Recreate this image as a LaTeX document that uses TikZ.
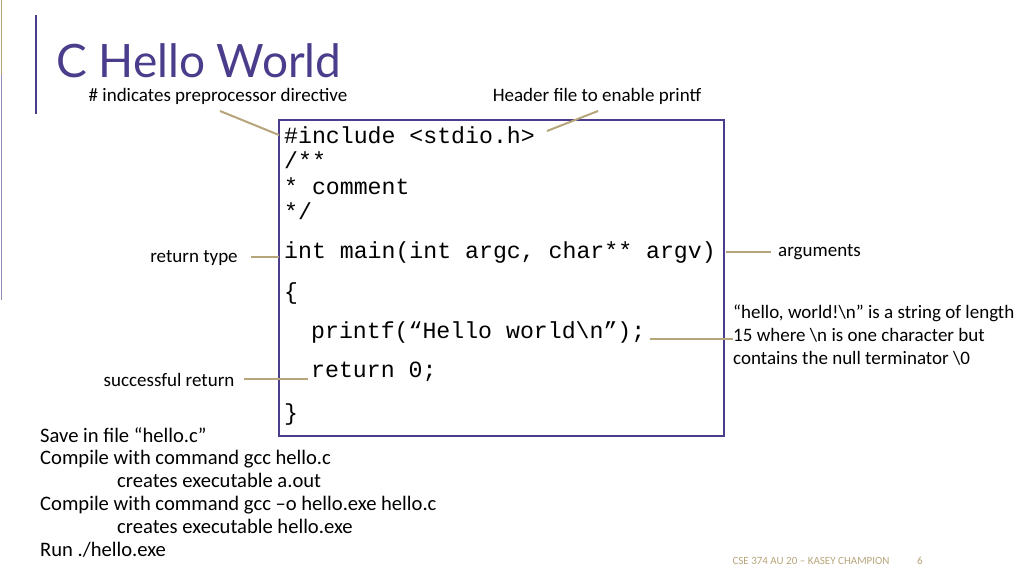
\documentclass[tikz,border=0pt]{standalone}
\usepackage{fontspec}
\setmainfont{Carlito}
\newfontfamily\codefont{Liberation Mono}
\newfontfamily\titlefont{Lato}
\begin{document}
\begin{tikzpicture}[x=1pt,y=-1pt,
  lbl/.style={inner sep=0pt,font=\fontsize{19}{22}\selectfont},
  code/.style={inner sep=0pt,anchor=west,font=\codefont\fontsize{23.2}{26}\selectfont},
  conn/.style={draw=gold,line width=2pt}]
\definecolor{purp}{HTML}{4B3C8C}
\definecolor{gold}{HTML}{B7A57A}
\useasboundingbox (0,0) rectangle (1024,576);
\draw[gold,line width=1pt] (1,0) -- (1,75);
\draw[purp!60,line width=1pt] (1,75) -- (1,300);
\draw[purp,line width=1.5pt] (36,15) -- (36,114);
\node[inner sep=0pt,anchor=west,text=purp,font=\titlefont\fontsize{46}{50}\selectfont] (title) at (56,61) {C Hello World};
\draw[purp,line width=1.5pt] (279,120) rectangle (724,436);
\node[code] (inc) at (284,135) {\#include <stdio.h>};
\node[code] at (284,160) {/**};
\node[code] at (284,186) {* comment};
\node[code] at (284,211) {*/};
\node[code] (main) at (284,252) {int main(int argc, char** argv)};
\node[code] at (284,293) {\{};
\node[code] (pf) at (311,332) {printf(“Hello world\textbackslash n”);};
\node[code] (ret) at (311,372) {return 0;};
\node[code] at (284,414) {\}};
\node[lbl] (pre) at (218,96) {\# indicates preprocessor directive};
\node[lbl] (hdr) at (597,96) {Header file to enable printf};
\node[lbl] (rt) at (194,258) {return type};
\node[lbl,anchor=west] (args) at (778,252) {arguments};
\node[lbl,anchor=north west,align=left,font=\fontsize{19}{23}\selectfont] (str) at (733,305) {“hello, world!\textbackslash n” is a string of length\\15 where \textbackslash n is one character but\\contains the null terminator \textbackslash 0};
\node[lbl] (sr) at (169,380) {successful return};
\node[lbl,anchor=north west,align=left,font=\fontsize{20.6}{22.8}\selectfont] (notes) at (40,427) {Save in file “hello.c”\\Compile with command gcc hello.c\\\hspace{77pt}creates executable a.out\\Compile with command gcc –o hello.exe hello.c\\\hspace{77pt}creates executable hello.exe\\Run ./hello.exe};
\node[inner sep=0pt,text=gold,font=\fontsize{11}{12}\selectfont] (foot) at (811,561) {CSE 374 AU 20 – KASEY CHAMPION};
\node[inner sep=0pt,text=gold,font=\fontsize{11}{12}\selectfont] (pg) at (920,561) {6};
\coordinate (c1) at (220,111); \coordinate (c1e) at (279,135);
\draw[conn] (c1) -- (c1e);
\coordinate (c2) at (598,111); \coordinate (c2e) at (547,131);
\draw[conn] (c2) -- (c2e);
\coordinate (c3) at (251,257); \coordinate (c3e) at (279,257);
\draw[conn] (c3) -- (c3e);
\coordinate (c4) at (726,252);
\draw[conn] (c4) -- ([xshift=-7pt]args.west);
\coordinate (c5) at (650,339);
\draw[conn] (c5) -- (str.north west |- c5);
\coordinate (c6) at (244,379); \coordinate (c6e) at (308,379);
\draw[conn] (c6) -- (c6e);
\end{tikzpicture}
\end{document}
